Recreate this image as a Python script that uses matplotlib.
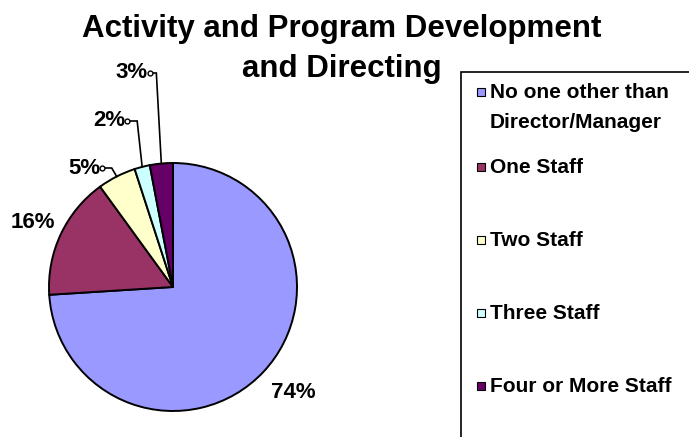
import matplotlib
matplotlib.use('Agg')
import numpy as np
import matplotlib.pyplot as plt
import matplotlib.patches as mpatches

plt.rcParams['font.family'] = ['Liberation Sans', 'DejaVu Sans']
plt.rcParams['font.weight'] = 'bold'

# staff help for activity / program development and directing
categories = ['No one other than\nDirector/Manager', 'One Staff', 'Two Staff',
              'Three Staff', 'Four or More Staff']
shares = [74, 16, 5, 2, 3]
colours = ['#9999FF', '#993366', '#FFFFCC', '#CCFFFF', '#660066']
title_lines = ['Activity and Program Development', 'and Directing']

W, H = 689, 437


def py(y):
    # pixel rows counted from the top -> axis units counted from the bottom
    return H - y


fig = plt.figure(figsize=(W / 100, H / 100), dpi=100)
ax = fig.add_axes([0, 0, 1, 1])

cx, cy, rad = 173, py(287), 124
wedges, _ = ax.pie(shares, colors=colours, startangle=90, counterclock=False,
                   center=(cx, cy), radius=rad, frame=True,
                   wedgeprops=dict(edgecolor='black', linewidth=1.4))
ax.set_xlim(0, W)
ax.set_ylim(0, H)
ax.set_aspect('auto')
ax.axis('off')

# label anchors: big slices get a plain label, small ones a leader line
big_pos = {0: (293, 392), 1: (33, 222)}
lead_pos = {2: (102, 168), 3: (127, 121), 4: (150, 73)}

for i, v in enumerate(shares):
    txt = '%d%%' % v
    if i in big_pos:
        x, y = big_pos[i]
        ax.text(x, py(y), txt, ha='center', va='center', fontsize=16)
        continue
    w = wedges[i]
    mid = np.deg2rad((w.theta1 + w.theta2) / 2)
    ex = cx + rad * np.cos(mid)
    ey = cy + rad * np.sin(mid)
    sx, sy = lead_pos[i]
    elbow = ex - 5
    ax.plot([sx, elbow, ex], [py(sy), py(sy), ey], color='black', lw=1.2,
            solid_joinstyle='miter')
    ax.plot(sx, py(sy), 'o', ms=3.5, mfc='white', mec='black', mew=1)
    ax.text(sx - 2, py(sy), txt, ha='right', va='center', fontsize=16)

for k, line in enumerate(title_lines):
    ax.text(342, py(37 + 40 * k), line, ha='center', va='baseline', fontsize=22.5)

# legend box, running off the right and bottom edges
ax.add_patch(mpatches.Rectangle((461, py(460)), 260, 388, fill=False,
                                edgecolor='black', linewidth=1.2, clip_on=False))
rows = [92, 167, 240, 313, 386]
for lab, col, y in zip(categories, colours, rows):
    ax.add_patch(mpatches.Rectangle((477, py(y) - 4), 8, 8, facecolor=col,
                                    edgecolor='black', linewidth=0.8))
    for k, part in enumerate(lab.split('\n')):
        ax.text(490, py(y + 30 * k) - 6, part, ha='left', va='baseline',
                fontsize=15)

fig.savefig('out.png', dpi=100)
